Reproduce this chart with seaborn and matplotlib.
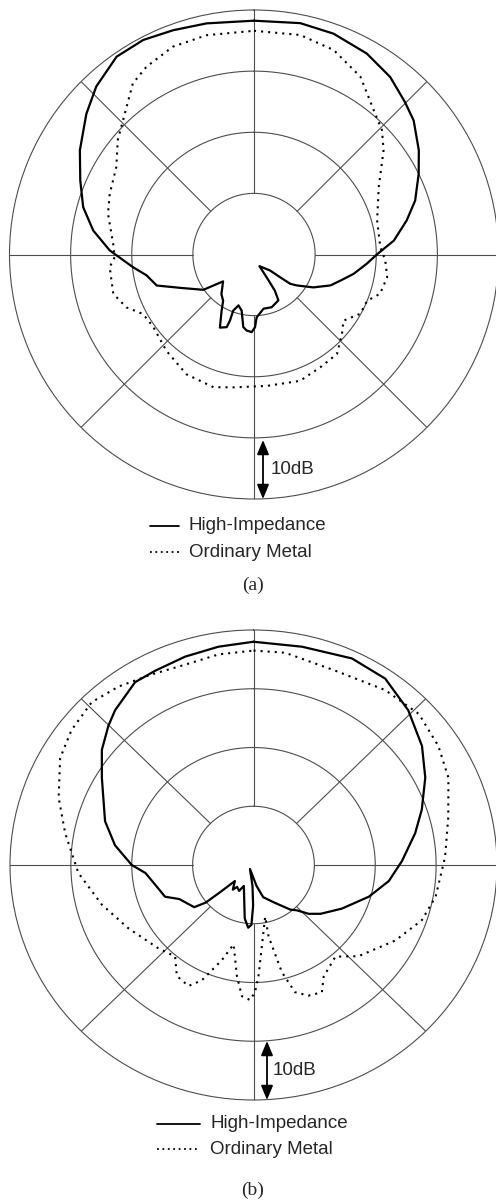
import numpy as np
import matplotlib
matplotlib.use('Agg')
import matplotlib.pyplot as plt
from matplotlib.lines import Line2D
from matplotlib.patches import FancyArrowPatch
import seaborn as sns

sns.set_style('white')
plt.rcParams['font.family'] = ['Liberation Sans', 'DejaVu Sans']

W, H = 496, 1201

# angles: degrees clockwise from top, values: dB (outer ring = 0 dB, 10 dB per ring)
# (a) High-Impedance
a_hi_ang = [0, 11.3, 19.8, 29.3, 37.5, 44.7, 50, 57.7, 63.9, 71.5, 77.4, 84.3, 90, 94.7,
            101, 106, 112, 119, 126, 129, 131, 135, 155, 151, 150, 152, 161.5, 170, 177.6,
            179.2, 181.7, 185.5, 188.4, 192.4, 197, 200.3, 200, 200.6, 205, 210, 213.7,
            219.4, 229, 232.7, 235.1, 245.8, 247, 252.3, 259, 264, 271.6, 278.5, 285.5,
            293.1, 300.9, 310, 316.8, 325.2, 332.7, 340.2, 348.4, 360]
a_hi_db = [-1.75, -1.4, -1.6, -2.3, -3.4, -4.9, -5.9, -8.1, -10, -12.2, -14.4, -17, -19.9, -21.5,
           -23.4, -25, -26.5, -28.9, -31.4, -32.4, -34.3, -36.3, -37.9, -35.7, -33.2, -31.5, -30.9, -31, -29.7,
           -28.1, -27.3, -27.5, -28, -30.6, -31.3, -30.2, -28.5, -27.3, -26.8, -29.4, -30.9,
           -31.6, -33.3, -31.6, -29.9, -26.7, -26.2, -23.3, -22.1, -20.1, -16.4, -13.4, -11,
           -9.1, -6.8, -4.2, -2.3, -0.6, -0.5, -1.0, -1.4, -1.75]

# (a) Ordinary Metal
a_om_ang = [0, 11.9, 21.3, 30.9, 39.6, 45.8, 51.2, 61.6, 74.5, 86.7, 92.6, 99.7, 107.3, 112.2,
            119.2, 126.5, 132.1, 140.2, 149.6, 160, 174.5, 188.9, 197, 209.4, 222.3, 234.2,
            241.8, 247.5, 254.4, 265, 268.9, 274.3, 285.6, 292.8, 302.5, 310, 319.2, 324.7,
            330.2, 338.7, 347.8, 360]
a_om_db = [-3.4, -3.3, -4.1, -6.1, -9.3, -10.8, -12.8, -16.8, -19.1, -19.3, -18.5, -17.9, -18.4, -20,
           -20.1, -21.8, -20.6, -18.8, -18.6, -18, -18.4, -18, -17.3, -17.5, -18.7, -19.7,
           -19.4, -17.4, -16.1, -16.3, -17.2, -16.9, -15.2, -14.4, -13.3, -10.9, -8.1, -5.7,
           -4.6, -3.5, -3.3, -3.4]

# (b) High-Impedance
b_hi_ang = [0, 12.1, 24.7, 34.3, 44, 53.8, 62.2, 71.2, 78.5, 88.4, 97, 105.9, 117.1, 127, 132.5,
            137.3, 141.5, 152.8, 163.8, 172, 220, 182.6, 180.5, 181.9, 184.7, 189, 204, 208.3,
            216, 219, 228.2, 229.9, 230.8, 233.6, 244.6, 249.6, 258.3, 265.6, 270, 278.4, 287,
            300.8, 308.2, 314.8, 319.2, 328, 334, 342.4, 351.2, 360]
b_hi_db = [-2.0, -2.0, -1.3, -1.6, -3.4, -5.7, -8.1, -10.8, -12.9, -15.6, -17.6, -20.3, -23.7, -26.2, -27.7,
           -29.5, -30.3, -32.9, -34.3, -36.4, -39.1, -36.4, -33.1, -29.8, -29.3, -30.8, -36.1, -35,
           -35.4, -34.6, -35.9, -32.7, -29.9, -27.9, -26.5, -24.5, -23.5, -22.2, -20, -17, -14.5,
           -11, -8.3, -6.4, -5.2, -3.3, -3.2, -2.8, -2.4, -2.0]

# (b) Ordinary Metal
b_om_ang = [0, 8.2, 22.1, 36, 46.6, 56.3, 65.1, 75.8, 87.5, 100.2, 108.8, 118.9, 132, 139.2, 148.7,
            152.6, 157.9, 162.5, 165.7, 168.5, 167.7, 177.5, 179.3, 181.4, 184.9, 188.2, 193.6,
            197.8, 203.4, 207.4, 213.7, 219.6, 227.7, 242.3, 254.8, 267.3, 279.9, 289.7, 299.8,
            307.5, 316.2, 323.9, 332.7, 341.8, 350.9, 360]
b_om_db = [-3.5, -3.5, -4.3, -3.2, -2.6, -3.5, -4.7, -7, -8.5, -9.6, -10.8, -13.4, -16.8, -19.4, -17.8,
           -15.6, -16, -17.3, -21.2, -27.6, -31, -21.1, -18.4, -17, -17.6, -20.9, -26.1,
           -23, -18.6, -16.8, -17.3, -19.8, -18.9, -16.8, -14.2, -11.2, -8.6, -6, -3.4,
           -2.3, -1.6, -2.4, -3.5, -4.1, -3.7, -3.5]

legend_labels = ['High-Impedance', 'Ordinary Metal']
panel_labels = ['(a)', '(b)']
scale_label = '10dB'

GRID = '0.3'
DOT = (0, (1, 2.4))


def fx(x):
    return x / W


def fy(y):
    return 1 - y / H


def draw_panel(ax, hi_ang, hi_db, om_ang, om_db):
    ax.set_theta_zero_location('N')
    ax.set_theta_direction(-1)
    ax.set_ylim(-40, 0)
    ax.grid(False)
    ax.set_xticks([])
    ax.set_yticks([])
    ax.spines['polar'].set_linewidth(0.8)
    ax.spines['polar'].set_color(GRID)
    t = np.linspace(0, 2 * np.pi, 400)
    for r in (-30, -20, -10):
        ax.plot(t, np.full_like(t, r), color=GRID, lw=0.8)
    for a in range(0, 360, 45):
        ax.plot([np.radians(a)] * 2, [-30, 0], color=GRID, lw=0.8)
    sns.lineplot(x=np.radians(hi_ang), y=hi_db, ax=ax, sort=False, estimator=None,
                 color='black', lw=1.6)
    sns.lineplot(x=np.radians(om_ang), y=om_db, ax=ax, sort=False, estimator=None,
                 color='black', lw=1.5, linestyle=DOT)
    ax.set_xlabel('')
    ax.set_ylabel('')


def annotate_panel(fig, arrow_x, y_top, y_bot, text_x, leg_x0, leg_x1, leg_tx, leg_y, label_y, label):
    fig.add_artist(FancyArrowPatch((fx(arrow_x), fy(y_top)), (fx(arrow_x), fy(y_bot)),
                                   transform=fig.transFigure, color='black', lw=1.3,
                                   arrowstyle='<|-|>,head_length=0.72,head_width=0.3',
                                   mutation_scale=12, shrinkA=0, shrinkB=0))
    fig.text(fx(text_x), fy((y_top + y_bot) / 2), scale_label, fontsize=13.5,
             ha='left', va='center')
    fig.add_artist(Line2D([fx(leg_x0), fx(leg_x1)], [fy(leg_y[0])] * 2,
                          transform=fig.transFigure, color='black', lw=1.3))
    fig.add_artist(Line2D([fx(leg_x0), fx(leg_x1)], [fy(leg_y[1])] * 2,
                          transform=fig.transFigure, color='black', lw=1.3, linestyle=(0, (1, 2))))
    for lab, yy in zip(legend_labels, leg_y):
        fig.text(fx(leg_tx), fy(yy), lab, fontsize=13.5, ha='left', va='center')
    fig.text(fx(253), fy(label_y), label, fontsize=14, ha='center', va='center',
             family=['Liberation Serif', 'DejaVu Serif'])


fig = plt.figure(figsize=(W / 100, H / 100), dpi=100)

# (a): centre (254, 254.5), radius 244.5 px
ax_a = fig.add_axes([fx(254 - 244.5), fy(254.5 + 244.5), 489 / W, 489 / H], projection='polar')
draw_panel(ax_a, a_hi_ang, a_hi_db, a_om_ang, a_om_db)

# (b): centre (253.5, 865), slightly squashed vertically
ax_b = fig.add_axes([fx(253.5 - 243.5), fy(865 + 235), 487 / W, 470 / H], projection='polar')
ax_b.set_aspect('auto')
draw_panel(ax_b, b_hi_ang, b_hi_db, b_om_ang, b_om_db)

annotate_panel(fig, 263, 440, 499, 271, 150, 179, 189, (526, 552), 585, panel_labels[0])
annotate_panel(fig, 267, 1041, 1100, 273, 157, 200, 210, (1124, 1149), 1190, panel_labels[1])

fig.savefig('out.png', dpi=100)
